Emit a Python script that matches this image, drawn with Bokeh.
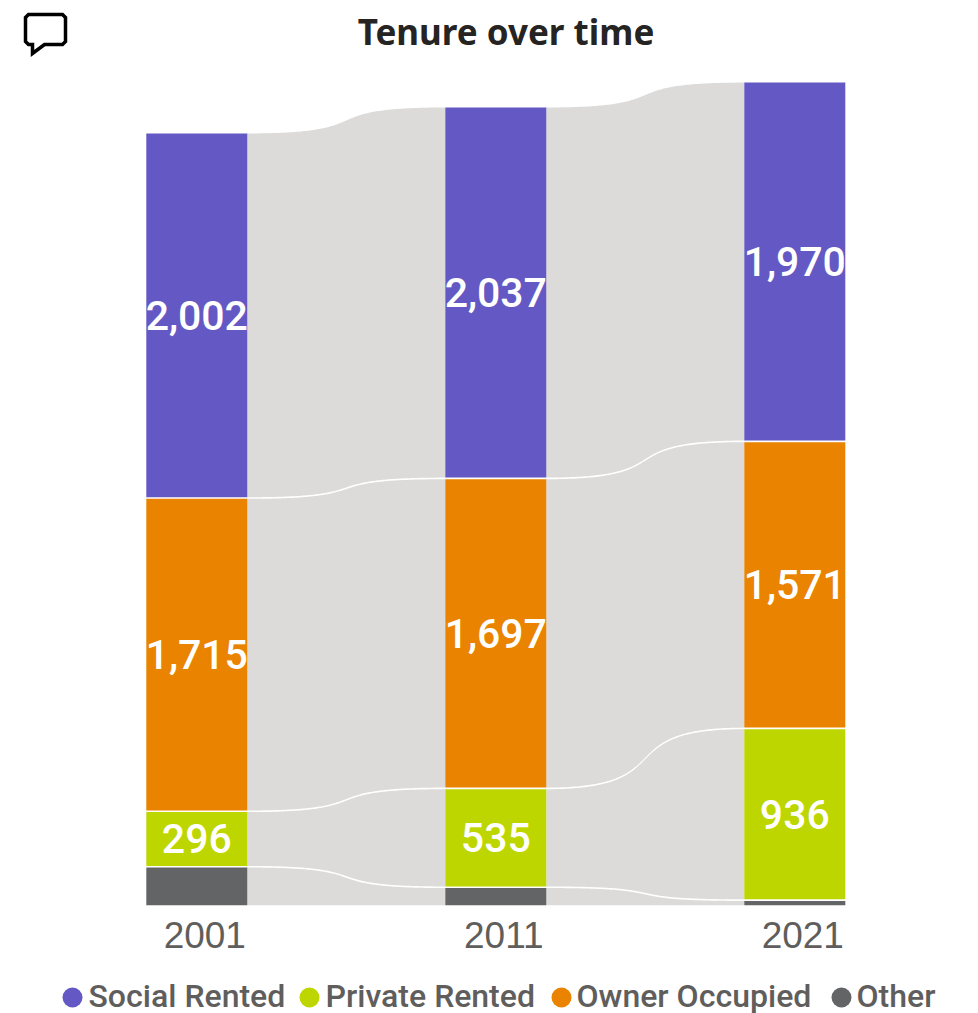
import numpy as np
from bokeh.plotting import figure
from bokeh.layouts import column
from bokeh.models import (Range1d, LinearAxis, FixedTicker, PolyAnnotation, ColumnDataSource)
from bokeh.core.properties import value
from bokeh.embed import file_html
from bokeh.resources import INLINE

years = [2001, 2011, 2021]
social = [2002, 2037, 1970]
private = [296, 535, 936]
owner = [1715, 1697, 1571]
other = [209, 96, 25]
legend_order = ["Social Rented", "Private Rented", "Owner Occupied", "Other"]
colors = {"Social Rented": "#6459C4", "Private Rented": "#BED600",
          "Owner Occupied": "#E98300", "Other": "#636466"}
stack_order = [("Other", other, False), ("Private Rented", private, True),
               ("Owner Occupied", owner, True), ("Social Rented", social, True)]
title_text = "Tenure over time"

RIBBON = "#DCDBDA"
TEXT_GREY = "#605E5C"
PX_PER_UNIT = 0.1817
GAP = 9
PX_PER_YEAR = 29.9
BAR_PX = 101
WIDTH = 970
FRAME_H = 905
LABEL_FONT = "Roboto Medium, Roboto"

x0 = 2001 - 196.3 / PX_PER_YEAR
x1 = x0 + WIDTH / PX_PER_YEAR
p = figure(width=WIDTH, height=960, output_backend="svg", toolbar_location=None,
           x_range=Range1d(x0, x1), y_range=Range1d(0, FRAME_H / PX_PER_UNIT),
           min_border_left=0, min_border_right=0, min_border_top=0,
           min_border_bottom=55, outline_line_color=None,
           x_axis_location=None, y_axis_location=None)
p.grid.visible = False

# the year labels sit to the right of the bars in the reference
shift = 8 / PX_PER_YEAR
p.extra_x_ranges["labels"] = Range1d(x0 - shift, x1 - shift)
ax = LinearAxis(x_range_name="labels", ticker=FixedTicker(ticks=years))
ax.axis_line_color = None
ax.major_tick_line_color = None
ax.minor_tick_line_color = None
ax.major_label_standoff = 10
ax.major_label_text_font = "Liberation Sans"
ax.major_label_text_font_size = "37px"
ax.major_label_text_color = TEXT_GREY
p.add_layout(ax, "below")

half = BAR_PX / PX_PER_YEAR / 2
t = np.linspace(0, 1, 120)
cx = 3 * (1 - t) ** 2 * t * 0.7 + 3 * (1 - t) * t ** 2 * 0.3 + t ** 3
cy = 3 * (1 - t) * t ** 2 + t ** 3


def flow(a, b):
    return a + (b - a) * cy


base = np.zeros(3)
bars = {"x": [], "bottom": [], "top": [], "color": []}
labs = {"x": [], "y": [], "text": []}
for name, vals, labelled in stack_order:
    vals = np.array(vals, float)
    top = base + vals
    for i in range(2):
        xa = years[i] + half
        xb = years[i + 1] - half
        xs = xa + (xb - xa) * cx
        upper = flow(top[i], top[i + 1])
        lower = flow(base[i], base[i + 1])
        p.patch(np.r_[xs, xs[::-1]], np.r_[upper, lower[::-1]],
                fill_color=RIBBON, line_color=None)
    for i, yr in enumerate(years):
        bars["x"].append(yr)
        bars["bottom"].append(base[i])
        bars["top"].append(top[i])
        bars["color"].append(colors[name])
        if labelled:
            labs["x"].append(yr)
            labs["y"].append((base[i] + top[i]) / 2)
            labs["text"].append(f"{int(vals[i]):,}")
    base = top + GAP

p.vbar(x="x", bottom="bottom", top="top", width=2 * half, color="color",
       line_color=None, source=ColumnDataSource(bars))
p.text(x="x", y="y", text="text", source=ColumnDataSource(labs),
       text_color="white", text_align="center", text_baseline="middle",
       text_font=value(LABEL_FONT), text_font_size="41px")

# chart title, placed in the frame so the icon beside it is not clipped
p.text(x=[x0 + 505.5 / PX_PER_YEAR], y=[(FRAME_H - 31) / PX_PER_UNIT], text=[title_text],
       text_color="#252423", text_align="center", text_baseline="middle",
       text_font=value("Noto Sans"), text_font_style="bold", text_font_size="35px")

# speech-bubble icon at the top left
icon_x = [28, 62, 65, 65, 62, 44, 32, 32, 28, 25, 25, 28]
icon_y = [14, 14, 17, 41, 44, 44, 53, 44, 44, 41, 17, 14]
p.add_layout(PolyAnnotation(xs=icon_x, ys=icon_y, xs_units="canvas", ys_units="canvas",
                            line_color="black", line_alpha=1, line_width=3.5,
                            line_join="miter", fill_alpha=0))

# legend strip underneath the axis
leg = figure(width=WIDTH, height=53, output_backend="svg", toolbar_location=None,
             x_range=Range1d(0, WIDTH), y_range=Range1d(0, 53),
             min_border_left=0, min_border_right=0, min_border_top=0, min_border_bottom=0,
             outline_line_color=None, x_axis_location=None, y_axis_location=None)
leg.grid.visible = False
marker_x = [72, 309, 561, 841]
text_x = [88, 325, 576, 856]
leg.scatter(x=marker_x, y=[16] * 4, size=20, marker="circle", line_color=None,
            fill_color=[colors[n] for n in legend_order])
leg.text(x=text_x, y=[18] * 4, text=legend_order, text_color=TEXT_GREY,
         text_align="left", text_baseline="middle",
         text_font=value(LABEL_FONT), text_font_size="32px")

page = column(p, leg, spacing=0)
open("out.html", "w").write(file_html(page, INLINE))
